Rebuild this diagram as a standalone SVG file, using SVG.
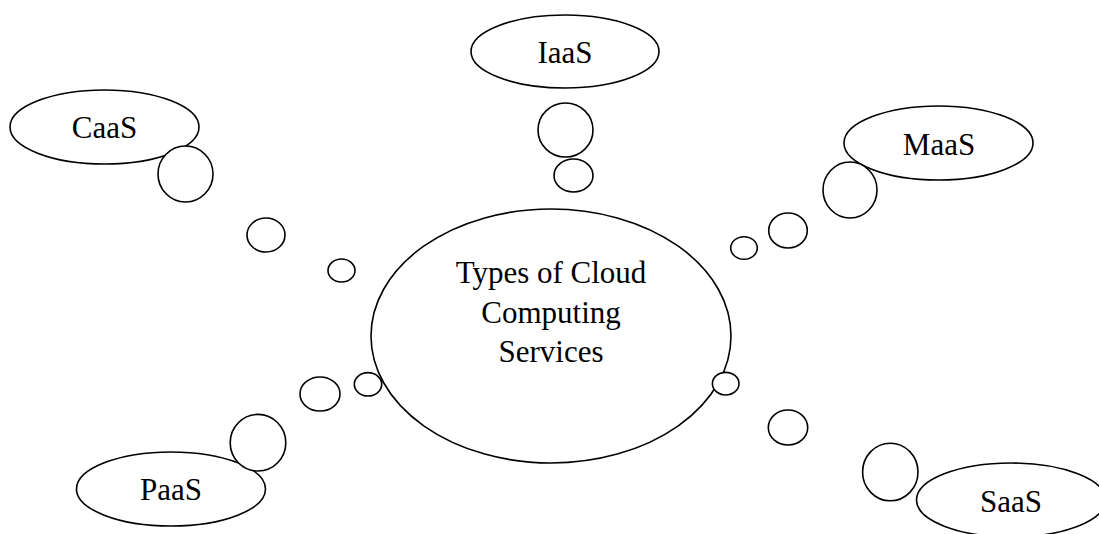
<svg xmlns="http://www.w3.org/2000/svg" width="1099" height="534" viewBox="0 0 1099 534">
<style>
.s{fill:#fff;stroke:#000;stroke-width:1.6}
.t{font-family:"Liberation Serif","Times New Roman",serif;font-size:31px;fill:#000;text-anchor:middle}
</style>
<rect width="1099" height="534" fill="#fff"/>
<g id="center">
<ellipse class="s" cx="551" cy="336" rx="180" ry="127"/>
<text class="t" x="551" y="283">Types of Cloud</text>
<text class="t" x="551" y="323">Computing</text>
<text class="t" x="551" y="362">Services</text>
</g>
<g id="iaas">
<ellipse class="s" cx="565" cy="51.5" rx="94" ry="36.5"/>
<text class="t" x="565" y="63">IaaS</text>
</g>
<g id="caas">
<ellipse class="s" cx="104.5" cy="127" rx="94.5" ry="37"/>
<text class="t" x="104.5" y="138">CaaS</text>
</g>
<g id="maas">
<ellipse class="s" cx="938.5" cy="143" rx="94.5" ry="37"/>
<text class="t" x="939" y="155">MaaS</text>
</g>
<g id="paas">
<ellipse class="s" cx="171" cy="489" rx="94.5" ry="37"/>
<text class="t" x="171" y="500">PaaS</text>
</g>
<g id="saas">
<ellipse class="s" cx="1011" cy="500" rx="94.5" ry="37"/>
<text class="t" x="1011" y="512">SaaS</text>
</g>
<g id="connectors">
<ellipse class="s" cx="565.5" cy="130" rx="27.5" ry="27"/>
<ellipse class="s" cx="573.5" cy="175.5" rx="19.5" ry="16.5"/>
<ellipse class="s" cx="185.5" cy="174" rx="27.5" ry="28"/>
<ellipse class="s" cx="266" cy="235" rx="19" ry="17"/>
<ellipse class="s" cx="341.5" cy="270.5" rx="13.5" ry="11.5"/>
<ellipse class="s" cx="850" cy="190" rx="27" ry="28"/>
<ellipse class="s" cx="788" cy="230.5" rx="19.3" ry="17.5"/>
<ellipse class="s" cx="744" cy="248" rx="13.3" ry="11.3"/>
<ellipse class="s" cx="258" cy="442.7" rx="27.8" ry="28.3"/>
<ellipse class="s" cx="320" cy="394" rx="20" ry="17"/>
<ellipse class="s" cx="368" cy="384.3" rx="13.7" ry="11.7"/>
<ellipse class="s" cx="890.3" cy="472" rx="27.7" ry="28.8"/>
<ellipse class="s" cx="788" cy="427.5" rx="19.7" ry="17.5"/>
<ellipse class="s" cx="725.7" cy="383.7" rx="13.3" ry="11.3"/>
</g>
</svg>
